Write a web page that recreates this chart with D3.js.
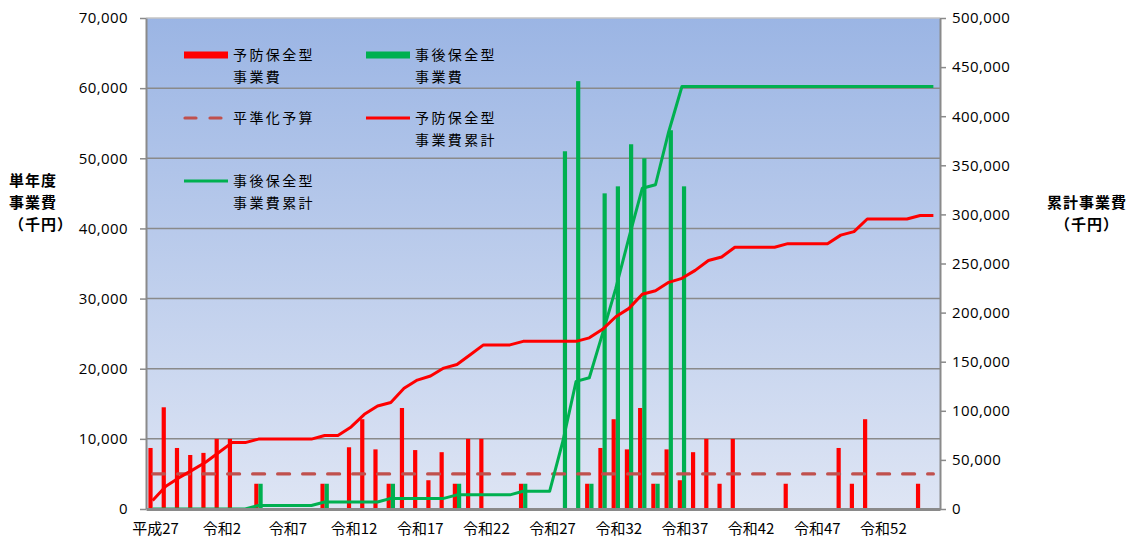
<!DOCTYPE html>
<html>
<head>
<meta charset="utf-8">
<script src="https://cdn.jsdelivr.net/npm/d3@7"></script>
<style>
  body { margin: 0; background: #fff; }
  text { font-family: "Noto Sans CJK JP", "Noto Sans", sans-serif; }
</style>
</head>
<body>
<script>
// years: 平成27 (2015) .. 令和56 (2074)
var years = [];
for (var y = 27; y <= 30; y++) years.push("平成" + y);
years.push("令和元");
for (var r = 2; r <= 56; r++) years.push("令和" + r);

// 予防保全型事業費 (千円)
var preventive = [8700, 14500, 8700, 7700, 8000, 10000, 10000, 0, 3600, 0,
  0, 0, 0, 3600, 0, 8800, 12800, 8500, 3600, 14400,
  8400, 4100, 8100, 3600, 10000, 10000, 0, 0, 3600, 0,
  0, 0, 0, 3600, 8700, 12800, 8500, 14400, 3600, 8500,
  4100, 8100, 10000, 3600, 10000, 0, 0, 0, 3600, 0,
  0, 0, 8700, 3600, 12800, 0, 0, 0, 3600, 0];

// 事後保全型事業費 (千円)
var corrective = [0, 0, 0, 0, 0, 0, 0, 0, 3600, 0,
  0, 0, 0, 3600, 0, 0, 0, 0, 3600, 0,
  0, 0, 0, 3600, 0, 0, 0, 0, 3600, 0,
  0, 51000, 61000, 3600, 45000, 46000, 52000, 50000, 3600, 54000,
  46000, 0, 0, 0, 0, 0, 0, 0, 0, 0,
  0, 0, 0, 0, 0, 0, 0, 0, 0, 0];

// 予防保全型事業費累計 (千円, right axis)
var preventiveCum = [8700, 23200, 31900, 39600, 47600, 57600, 67600, 67600, 71200, 71200,
  71200, 71200, 71200, 74800, 74800, 83600, 96400, 104900, 108500, 122900,
  131300, 135400, 143500, 147100, 157100, 167100, 167100, 167100, 170700, 170700,
  170700, 170700, 170700, 174300, 183000, 195800, 204300, 218700, 222300, 230800,
  234900, 243000, 253000, 256600, 266600, 266600, 266600, 266600, 270200, 270200,
  270200, 270200, 278900, 282500, 295300, 295300, 295300, 295300, 298900, 298900];

// 事後保全型事業費累計 (千円, right axis)
var correctiveCum = [0, 0, 0, 0, 0, 0, 0, 0, 3600, 3600,
  3600, 3600, 3600, 7200, 7200, 7200, 7200, 7200, 10800, 10800,
  10800, 10800, 10800, 14400, 14400, 14400, 14400, 14400, 18000, 18000,
  18000, 69000, 130000, 133600, 178600, 224600, 276600, 326600, 330200, 384200,
  430200, 430200, 430200, 430200, 430200, 430200, 430200, 430200, 430200, 430200,
  430200, 430200, 430200, 430200, 430200, 430200, 430200, 430200, 430200, 430200];

// 平準化予算 (千円)
var levelBudget = 5000;

var leftTicks = [0, 10000, 20000, 30000, 40000, 50000, 60000, 70000];
var rightTicks = [0, 50000, 100000, 150000, 200000, 250000, 300000, 350000, 400000, 450000, 500000];

var width = 1136, height = 539;
var plot = {left: 146, right: 940, top: 18, bottom: 509};

var svg = d3.select("body").append("svg")
    .attr("width", width)
    .attr("height", height);

var defs = svg.append("defs");
var grad = defs.append("linearGradient")
    .attr("id", "bg").attr("x1", 0).attr("y1", 0).attr("x2", 0).attr("y2", 1);
grad.append("stop").attr("offset", "0%").attr("stop-color", "#9bb5e4");
grad.append("stop").attr("offset", "100%").attr("stop-color", "#dee5f4");

var x = d3.scaleBand()
    .domain(years)
    .range([plot.left, plot.right])
    .paddingInner(0).paddingOuter(0);

var yL = d3.scaleLinear().domain([0, 70000]).range([plot.bottom, plot.top]);
var yR = d3.scaleLinear().domain([0, 500000]).range([plot.bottom, plot.top]);

var cx = d => x(d) + x.bandwidth() / 2;

// plot background
svg.append("rect")
    .attr("x", plot.left).attr("y", plot.top)
    .attr("width", plot.right - plot.left).attr("height", plot.bottom - plot.top)
    .attr("fill", "url(#bg)");

// gridlines
svg.append("g")
    .selectAll("line")
    .data(leftTicks.filter(t => t > 0 && t < 70000))
    .join("line")
    .attr("x1", plot.left).attr("x2", plot.right)
    .attr("y1", d => yL(d)).attr("y2", d => yL(d))
    .attr("stroke", "#8a8a8a").attr("stroke-width", 1.5);

svg.append("line")
    .attr("x1", plot.left).attr("x2", plot.right)
    .attr("y1", plot.top).attr("y2", plot.top)
    .attr("stroke", "#c4c4c4").attr("stroke-width", 1.5);

// bars
var barW = 4.2;
svg.append("g")
    .selectAll("rect")
    .data(years.map((d, i) => ({year: d, v: preventive[i]})).filter(d => d.v > 0))
    .join("rect")
    .attr("x", d => cx(d.year) - barW)
    .attr("y", d => yL(d.v))
    .attr("width", barW)
    .attr("height", d => yL(0) - yL(d.v))
    .attr("fill", "#ff0000");

svg.append("g")
    .selectAll("rect")
    .data(years.map((d, i) => ({year: d, v: corrective[i]})).filter(d => d.v > 0))
    .join("rect")
    .attr("x", d => cx(d.year))
    .attr("y", d => yL(d.v))
    .attr("width", barW)
    .attr("height", d => yL(0) - yL(d.v))
    .attr("fill", "#00b050");

// 平準化予算
svg.append("line")
    .attr("x1", cx(years[0])).attr("x2", cx(years[years.length - 1]))
    .attr("y1", yL(levelBudget)).attr("y2", yL(levelBudget))
    .attr("stroke", "#c0504d").attr("stroke-width", 3.2)
    .attr("stroke-dasharray", "12,13").attr("stroke-linecap", "round");

// cumulative lines
var lineR = d3.line()
    .x((d, i) => cx(years[i]))
    .y(d => yR(d));

svg.append("path")
    .datum(correctiveCum)
    .attr("fill", "none")
    .attr("stroke", "#00b050")
    .attr("stroke-width", 3)
    .attr("stroke-linejoin", "round")
    .attr("d", lineR);

svg.append("path")
    .datum(preventiveCum)
    .attr("fill", "none")
    .attr("stroke", "#ff0000")
    .attr("stroke-width", 3)
    .attr("stroke-linejoin", "round")
    .attr("d", lineR);

// axes
svg.append("g")
    .attr("transform", `translate(${plot.left},0)`)
    .call(d3.axisLeft(yL).tickValues(leftTicks).tickFormat(d3.format(",")).tickSize(6).tickPadding(12).tickSizeOuter(0))
    .call(g => g.select(".domain").attr("stroke", "#8a8a8a").attr("stroke-width", 2))
    .call(g => g.selectAll(".tick line").attr("stroke", "#8a8a8a").attr("stroke-width", 1.5))
    .call(g => g.selectAll(".tick text").attr("font-size", 15).attr("letter-spacing", 0.4).attr("fill", "#000")
        .style("font-family", "'Open Sans', sans-serif"));

svg.append("g")
    .attr("transform", `translate(${plot.right},0)`)
    .call(d3.axisRight(yR).tickValues(rightTicks).tickFormat(d3.format(",")).tickSize(6).tickPadding(6).tickSizeOuter(0))
    .call(g => g.select(".domain").attr("stroke", "#8a8a8a").attr("stroke-width", 2))
    .call(g => g.selectAll(".tick line").attr("stroke", "#8a8a8a").attr("stroke-width", 1.5))
    .call(g => g.selectAll(".tick text").attr("font-size", 15).attr("letter-spacing", 0.4).attr("fill", "#000")
        .style("font-family", "'Open Sans', sans-serif"));

svg.append("g")
    .attr("transform", `translate(0,${plot.bottom})`)
    .call(d3.axisBottom(x).tickValues(years.filter((d, i) => i % 5 === 0)).tickSize(0).tickPadding(14))
    .call(g => g.select(".domain").attr("stroke", "#8a8a8a").attr("stroke-width", 3))
    .call(g => g.selectAll(".tick text").attr("font-size", 15).attr("fill", "#000").attr("dx", 3));

// axis titles
var leftTitle = ["単年度", "事業費", "（千円）"];
svg.append("g").selectAll("text")
    .data(leftTitle)
    .join("text")
    .attr("x", 9)
    .attr("y", (d, i) => 186 + i * 22)
    .attr("font-size", 15).attr("font-weight", "bold")
    .attr("letter-spacing", 1)
    .text(d => d);

var rightTitle = ["累計事業費", "（千円）"];
svg.append("g").selectAll("text")
    .data(rightTitle)
    .join("text")
    .attr("x", 1087)
    .attr("y", (d, i) => 208 + i * 22)
    .attr("text-anchor", "middle")
    .attr("font-size", 15).attr("font-weight", "bold")
    .attr("letter-spacing", 1)
    .text(d => d);

// legend
var legendItems = [
  {lines: ["予防保全型", "事業費"], type: "bar", color: "#ff0000", x: 184, y: 55},
  {lines: ["事後保全型", "事業費"], type: "bar", color: "#00b050", x: 366, y: 55},
  {lines: ["平準化予算"], type: "dash", color: "#c0504d", x: 184, y: 118},
  {lines: ["予防保全型", "事業費累計"], type: "line", color: "#ff0000", x: 366, y: 118},
  {lines: ["事後保全型", "事業費累計"], type: "line", color: "#00b050", x: 184, y: 181}
];

var lg = svg.append("g").selectAll("g")
    .data(legendItems)
    .join("g")
    .attr("transform", d => `translate(${d.x},${d.y})`);

lg.each(function(d) {
  var g = d3.select(this);
  if (d.type === "bar") {
    g.append("rect").attr("x", 0).attr("y", -3.5).attr("width", 44).attr("height", 7).attr("fill", d.color);
  } else if (d.type === "dash") {
    g.append("line").attr("x1", 1).attr("x2", 44).attr("y1", 0).attr("y2", 0)
      .attr("stroke", d.color).attr("stroke-width", 3.2)
      .attr("stroke-dasharray", "11,14").attr("stroke-linecap", "round");
  } else {
    g.append("line").attr("x1", 0).attr("x2", 44).attr("y1", 0).attr("y2", 0)
      .attr("stroke", d.color).attr("stroke-width", 3);
  }
  g.selectAll("text")
    .data(d.lines)
    .join("text")
    .attr("x", 49)
    .attr("y", (t, i) => 5 + i * 22)
    .attr("font-size", 14)
    .attr("letter-spacing", 2.4)
    .attr("fill", "#000")
    .text(t => t);
});
</script>
</body>
</html>
